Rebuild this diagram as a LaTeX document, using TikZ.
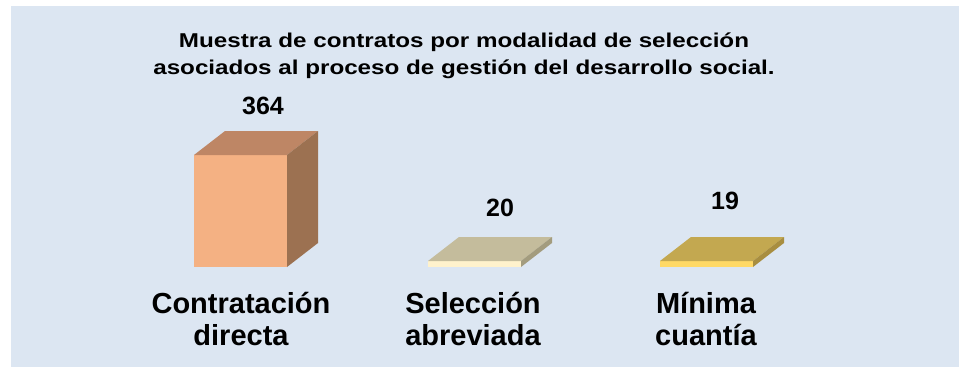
\documentclass[tikz,border=0pt]{standalone}
\usepackage{fontspec}
\setmainfont{Liberation Sans}
\newfontfamily\titlefont[FakeStretch=1.21]{Liberation Sans}
\definecolor{panel}{HTML}{DCE6F2}
\definecolor{aFront}{HTML}{F4B183}
\definecolor{aTop}{HTML}{BE8665}
\definecolor{aSide}{HTML}{9C7151}
\definecolor{bFront}{HTML}{FFF2CC}
\definecolor{bTop}{HTML}{C4BC9C}
\definecolor{bSide}{HTML}{A39C7E}
\definecolor{cFront}{HTML}{FFD966}
\definecolor{cTop}{HTML}{C3A850}
\definecolor{cSide}{HTML}{A88E40}
\tikzset{
  numlabel/.style={font=\bfseries\fontsize{25}{28}\selectfont, anchor=base, inner sep=0pt},
  catlabel/.style={font=\bfseries\fontsize{29}{32}\selectfont, anchor=base, align=center, inner sep=0pt},
  titlelabel/.style={font=\titlefont\bfseries\fontsize{20}{28}\selectfont, anchor=base, align=center, inner sep=0pt},
}
\newcommand{\barbox}[5]{% x1 x2 ytop ybot colour prefix
  \fill[#5Front] (#1,#3) rectangle (#2,#4);
  \fill[#5Top] (#1,#3) -- ++(31,-24) -- ++(#2-#1,0) -- (#2,#3) -- cycle;
  \fill[#5Side] (#2,#3) -- ++(31,-24) -- ++(0,#4-#3) -- (#2,#4) -- cycle;
}
\begin{document}
\begin{tikzpicture}[x=1pt,y=-1pt]
\useasboundingbox (0,0) rectangle (959,369);
\fill[white] (0,0) rectangle (959,369);
\fill[panel] (11,6) rectangle (959,367);
\node[titlelabel] (title) at (464,75) {Muestra de contratos por modalidad de selección\\asociados al proceso de gestión del desarrollo social.};
\barbox{194}{287}{155}{267}{a}
\barbox{428}{521}{261}{267}{b}
\barbox{660}{753}{261}{267}{c}
\node[numlabel] (n1) at (263,114) {364};
\node[numlabel] (n2) at (500,216) {20};
\node[numlabel] (n3) at (725,209) {19};
\node[catlabel] (c1) at (241,345) {Contratación\\directa};
\node[catlabel] (c2) at (473,345) {Selección\\abreviada};
\node[catlabel] (c3) at (706,345) {Mínima\\cuantía};
\end{tikzpicture}
\end{document}
